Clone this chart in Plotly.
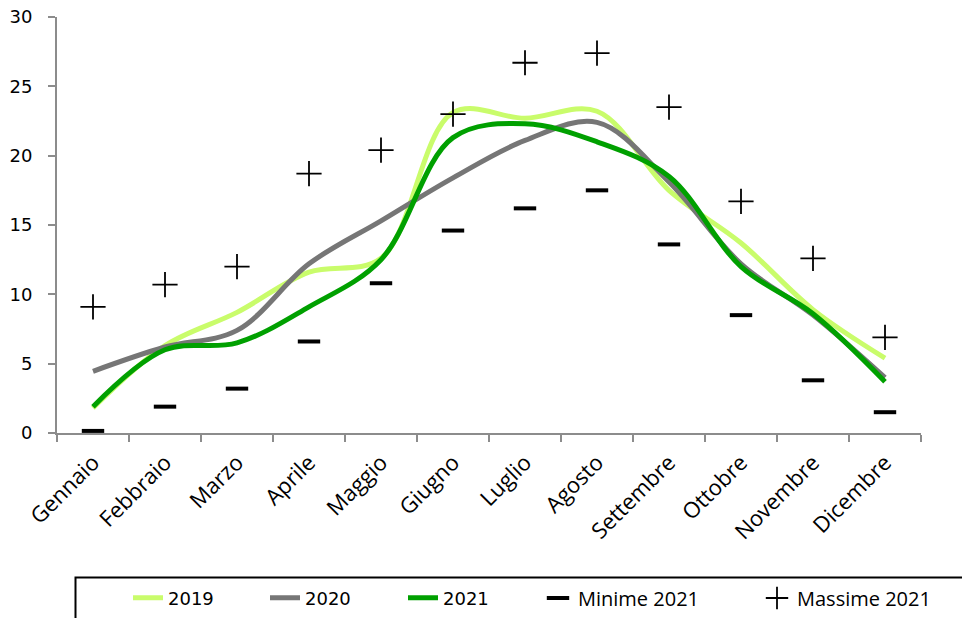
import plotly.graph_objects as go

months = ["Gennaio", "Febbraio", "Marzo", "Aprile", "Maggio", "Giugno",
          "Luglio", "Agosto", "Settembre", "Ottobre", "Novembre", "Dicembre"]
y2019 = [1.8, 6.3, 8.7, 11.6, 12.6, 23.1, 22.7, 23.2, 17.5, 13.7, 8.9, 5.4]
y2020 = [4.45, 6.2, 7.4, 12.2, 15.3, 18.4, 21.1, 22.4, 18.1, 12.2, 8.5, 4.0]
y2021 = [1.9, 6.0, 6.5, 9.1, 12.5, 21.3, 22.3, 21.0, 18.5, 12.0, 8.6, 3.7]
min2021 = [0.15, 1.9, 3.2, 6.6, 10.8, 14.6, 16.2, 17.5, 13.6, 8.5, 3.8, 1.5]
max2021 = [9.1, 10.7, 12.0, 18.7, 20.4, 23.0, 26.7, 27.4, 23.5, 16.7, 12.6, 6.9]

FIG_W, FIG_H = 962, 618
# target plot area in window pixels: x 57..921, y 17..433
ML = 57
MT = 17
PW = 864
PH = 416
MR = FIG_W - ML - PW
MB = FIG_H - MT - PH

def px_x(p):
    return (p - ML) / PW

def px_y(p):
    return (MT + PH - p) / PH

fig = go.Figure()
line_w = 5
fig.add_trace(go.Scatter(x=months, y=y2019, mode="lines", name="2019",
                         line=dict(color="#c9fc6b", width=line_w, shape="spline", smoothing=1.0),
                         legend="legend", showlegend=True))
fig.add_trace(go.Scatter(x=months, y=y2020, mode="lines", name="2020",
                         line=dict(color="#767676", width=line_w, shape="spline", smoothing=1.0),
                         legend="legend2", showlegend=True))
fig.add_trace(go.Scatter(x=months, y=y2021, mode="lines", name="2021",
                         line=dict(color="#00a000", width=line_w, shape="spline", smoothing=1.0),
                         legend="legend3", showlegend=True))
fig.add_trace(go.Scatter(x=months, y=min2021, mode="markers", name="Minime 2021",
                         marker=dict(symbol="line-ew", size=16, color="black",
                                     line=dict(color="black", width=4)),
                         cliponaxis=False, legend="legend4", showlegend=True))
fig.add_trace(go.Scatter(x=months, y=max2021, mode="markers", name="Massime 2021",
                         marker=dict(symbol="cross-thin", size=18, color="black",
                                     line=dict(color="black", width=1.8)),
                         cliponaxis=False, legend="legend5", showlegend=True))

year_font = dict(family="DejaVu Sans", size=18, color="black")
txt_font = dict(family="Open Sans", size=20, color="black")

def leg(xpx, font):
    return dict(x=xpx / FIG_W, y=1 - 598 / FIG_H,
                xref="container", yref="container",
                xanchor="left", yanchor="middle",
                orientation="h", font=font, bgcolor="rgba(0,0,0,0)",
                borderwidth=0)

fig.update_layout(
    width=FIG_W, height=FIG_H,
    margin=dict(l=ML, r=MR, t=MT, b=MB, autoexpand=False),
    paper_bgcolor="white", plot_bgcolor="white",
    showlegend=True,
    legend=leg(128, year_font),
    legend2=leg(265, year_font),
    legend3=leg(403, year_font),
    legend4=leg(538, txt_font),
    legend5=leg(757, txt_font),
    xaxis=dict(type="category", range=[-0.5, 11.5], showline=True,
               linecolor="#8c8c8c", linewidth=2, ticks="outside",
               tickson="boundaries", ticklen=7, tickcolor="#8c8c8c", tickwidth=2,
               tickangle=-45, ticklabelstandoff=6,
               tickfont=dict(family="Open Sans", size=22, color="black"),
               showgrid=False, zeroline=False, fixedrange=True),
    yaxis=dict(range=[0, 30], tickvals=[0, 5, 10, 15, 20, 25, 30], showline=True,
               linecolor="#8c8c8c", linewidth=2, ticks="outside", ticklen=7,
               tickcolor="#8c8c8c", tickwidth=2, ticklabelstandoff=12,
               ticklabeloverflow="allow",
               tickfont=dict(family="DejaVu Sans", size=18, color="black"),
               showgrid=False, zeroline=False, fixedrange=True),
    shapes=[dict(type="rect", xref="paper", yref="paper",
                 x0=px_x(75.5), x1=px_x(1010), y0=px_y(577.5), y1=px_y(680),
                 line=dict(color="black", width=2), fillcolor="rgba(0,0,0,0)",
                 layer="above")],
)

fig.write_html("out.html", config={"displayModeBar": False},
               post_script="document.body.style.margin='0px';")
